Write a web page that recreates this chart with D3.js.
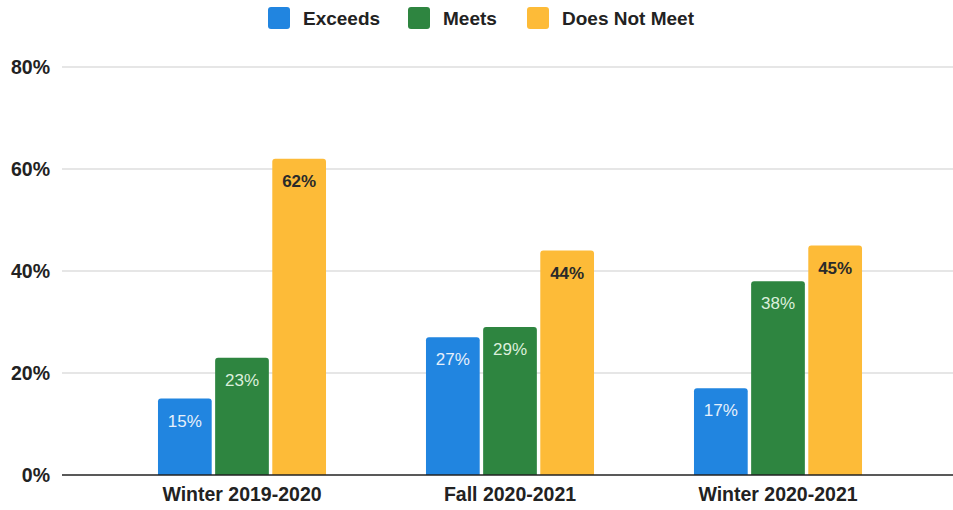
<!DOCTYPE html>
<html><head><meta charset="utf-8">
<script src="https://cdn.jsdelivr.net/npm/d3@7/dist/d3.min.js"></script>
<style>body{margin:0;background:#fff}svg{display:block}</style>
</head><body>
<svg id="c" width="953" height="510"></svg>
<script>
const categories = ["Winter 2019-2020", "Fall 2020-2021", "Winter 2020-2021"];
const seriesNames = ["Exceeds", "Meets", "Does Not Meet"];
const exceeds = [15, 27, 17];
const meets = [23, 29, 38];
const doesNotMeet = [62, 44, 45];
const yTicks = [0, 20, 40, 60, 80];
const colors = ["#2185e0", "#2e8540", "#fdbb38"];
const labelColors = ["#e6f0fb", "#dcefdc", "#2a2a2a"];

const series = [exceeds, meets, doesNotMeet];
const svg = d3.select("#c");
const font = "'Liberation Sans', Arial, sans-serif";

const y = d3.scaleLinear().domain([0, 80]).range([475, 67]);
const x0 = d3.scaleBand().domain(categories).range([108, 912]).paddingInner(0.373).paddingOuter(0.1865);
const x1 = d3.scaleBand().domain(seriesNames).range([0, x0.bandwidth()]).paddingInner(0.06);

// gridlines
svg.append("g").selectAll("line").data(yTicks.filter(d => d > 0)).join("line")
  .attr("x1", 62).attr("x2", 953)
  .attr("y1", d => y(d)).attr("y2", d => y(d))
  .attr("stroke", "#dedede").attr("stroke-width", 1.5);

// y axis labels
const yAxis = d3.axisLeft(y).tickValues(yTicks).tickFormat(d => d + "%").tickSize(0).tickPadding(0);
const ya = svg.append("g").attr("transform", "translate(50,0)").call(yAxis);
ya.select(".domain").remove();
ya.selectAll("text").attr("font-family", font).attr("font-weight", "bold")
  .attr("font-size", 19.5).attr("fill", "#222");

// bars
const groups = svg.append("g").selectAll("g").data(categories).join("g")
  .attr("transform", d => `translate(${x0(d)},0)`);
groups.each(function(cat, ci) {
  const g = d3.select(this);
  const data = seriesNames.map((s, si) => ({s, si, v: series[si][ci]}));
  g.selectAll("path").data(data).join("path")
    .attr("d", d => {
      const xx = x1(d.s), w = x1.bandwidth(), top = y(d.v), bot = y(0), r = 3;
      return `M${xx},${bot}V${top + r}Q${xx},${top} ${xx + r},${top}H${xx + w - r}Q${xx + w},${top} ${xx + w},${top + r}V${bot}Z`;
    })
    .attr("fill", d => colors[d.si]);
  g.selectAll("text").data(data).join("text")
    .attr("x", d => x1(d.s) + x1.bandwidth() / 2)
    .attr("y", d => y(d.v) + 28)
    .attr("text-anchor", "middle")
    .attr("font-family", font).attr("font-size", 17)
    .attr("font-weight", d => d.si === 2 ? "bold" : "normal")
    .attr("fill", d => labelColors[d.si])
    .text(d => d.v + "%");
});

// baseline
svg.append("line").attr("x1", 62).attr("x2", 953).attr("y1", y(0)).attr("y2", y(0))
  .attr("stroke", "#222").attr("stroke-width", 1.6);

// x axis
const xAxis = d3.axisBottom(x0).tickSize(0).tickPadding(0);
const xa = svg.append("g").attr("transform", `translate(0,${y(0) + 26})`).call(xAxis);
xa.select(".domain").remove();
xa.selectAll("text").attr("font-family", font).attr("font-weight", "bold")
  .attr("font-size", 19.5).attr("fill", "#222").attr("dy", 0);

// legend
const legendX = [268, 408, 527];
const lg = svg.append("g").selectAll("g").data(seriesNames).join("g")
  .attr("transform", (d, i) => `translate(${legendX[i]},7)`);
lg.append("rect").attr("width", 22).attr("height", 22).attr("rx", 3).attr("fill", (d, i) => colors[i]);
lg.append("text").attr("x", 35).attr("y", 18).attr("font-family", font).attr("font-weight", "bold")
  .attr("font-size", 19).attr("fill", "#222").text(d => d);
</script>
</body></html>
